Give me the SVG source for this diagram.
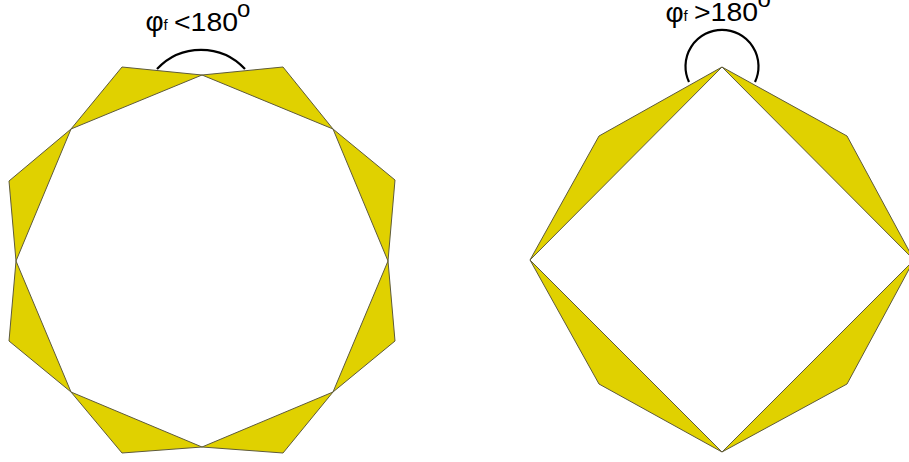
<svg xmlns="http://www.w3.org/2000/svg" width="909" height="462" viewBox="0 0 909 462">
<style>
.fold{fill:#e0d100;stroke:#5e5a3a;stroke-width:1;stroke-linejoin:miter}
.arc{fill:none;stroke:#000;stroke-width:2.2}
.lbl{font-family:"Liberation Sans",Arial,sans-serif;fill:#000}
.phi{font-size:28px}
.sub{font-size:15px}
.num{font-size:25px}
.sup{font-size:24px}
</style>
<rect width="909" height="462" fill="#fff"/>
<g id="octagon">
<polygon class="fold" points="202,75 283,67 333,129"/>
<polygon class="fold" points="333,129 395,180 388,261"/>
<polygon class="fold" points="388,261 395,341 333,392"/>
<polygon class="fold" points="333,392 283,453 202,447"/>
<polygon class="fold" points="202,447 122,453 71,392"/>
<polygon class="fold" points="71,392 9,341 16,261"/>
<polygon class="fold" points="16,261 9,181 71,129"/>
<polygon class="fold" points="71,129 122,67 202,75"/>
</g>
<g id="diamond">
<polygon class="fold" points="722,67 599,136 530,260"/>
<polygon class="fold" points="722,67 847,136 914,260"/>
<polygon class="fold" points="914,260 847,384 722,452"/>
<polygon class="fold" points="722,452 599,384 530,260"/>
</g>
<g id="angle-left">
<path class="arc" d="M157,69 A60,60 0 0 1 245,69"/>
<text class="lbl"><tspan class="phi" x="145.5" y="30.5">φ</tspan><tspan class="sub" x="163.5" y="29.5">f</tspan><tspan class="num" x="174" y="30.7" textLength="64" lengthAdjust="spacingAndGlyphs">&lt;180</tspan><tspan class="sup" x="237" y="16.5">o</tspan></text>
</g>
<g id="angle-right">
<path class="arc" d="M689,82 A36.5,36.5 0 1 1 755,82"/>
<text class="lbl"><tspan class="phi" x="665.5" y="21.5">φ</tspan><tspan class="sub" x="683.5" y="20.5">f</tspan><tspan class="num" x="694" y="20.7" textLength="64" lengthAdjust="spacingAndGlyphs">&gt;180</tspan><tspan class="sup" x="757.5" y="7">o</tspan></text>
</g>
</svg>
